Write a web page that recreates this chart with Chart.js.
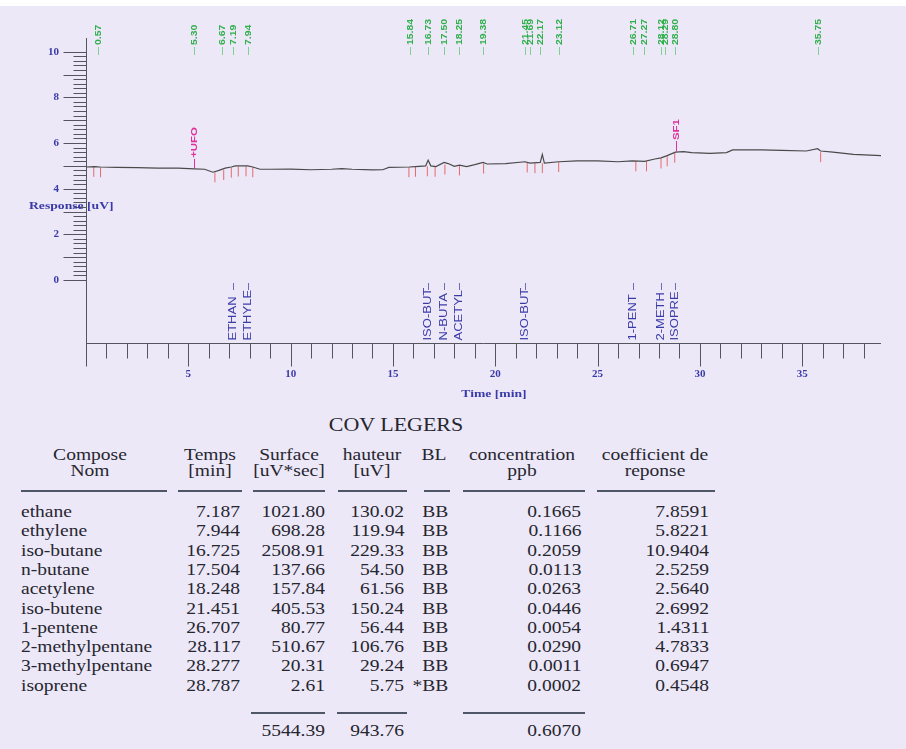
<!DOCTYPE html>
<html>
<head>
<meta charset="utf-8">
<script src="https://cdn.jsdelivr.net/npm/chart.js@4.4.1/dist/chart.umd.min.js"></script>
<style>
  html, body { margin: 0; padding: 0; }
  body {
    width: 906px; height: 749px; position: relative; overflow: hidden;
    background: #ece8f8; color: #26262e;
    font-family: "Liberation Serif", "Times New Roman", serif;
  }
  #topStrip { position: absolute; left: 0; top: 0; width: 906px; height: 6px; background: #fff; }
  #chartBox { position: absolute; left: 0; top: 0; width: 906px; height: 405px; }
  .cell { position: absolute; font-size: 16px; line-height: 18px; white-space: nowrap; }
  .rule { position: absolute; height: 2px; background: #4f5668; }
</style>
</head>
<body>
<div id="topStrip"></div>
<div id="chartBox"><canvas id="chart" width="906" height="405"></canvas></div>
<div id="table"></div>
<script>
// chromatogram trace (time in min, response in uV)
const traceTimes = [0, 0.4, 0.7, 1.5, 2.5, 3.5, 4.5, 5.3, 5.8, 6.2, 6.5, 6.8, 7.1, 7.3, 7.9, 8.15,
  8.5, 9, 10, 11, 12, 12.5, 13, 14, 14.5, 14.8, 15.8, 16.1, 16.6, 16.72, 16.85, 17.1, 17.5, 17.7,
  18.0, 18.25, 18.6, 19.0, 19.4, 19.6, 20.5, 21.45, 21.7, 22.2, 22.3, 22.4, 23.1, 24, 25, 26, 26.7,
  27.3, 27.8, 28.1, 28.4, 28.8, 29.2, 29.6, 30.5, 31.3, 31.6, 33, 34, 35.2, 35.75, 35.9, 36.5, 37.5, 38.9]
const traceResponse = [4.95, 4.97, 4.95, 4.93, 4.92, 4.9, 4.9, 4.87, 4.85, 4.72, 4.8, 4.9, 4.95, 5.0, 5.0, 4.95,
  4.85, 4.85, 4.86, 4.83, 4.85, 4.88, 4.85, 4.82, 4.83, 4.93, 4.95, 4.97, 5.0, 5.25, 5.0, 4.97, 5.15, 5.1,
  4.98, 5.03, 4.97, 5.05, 5.15, 5.08, 5.1, 5.18, 5.12, 5.15, 5.5, 5.12, 5.18, 5.22, 5.22, 5.18, 5.22,
  5.2, 5.3, 5.35, 5.45, 5.6, 5.62, 5.58, 5.55, 5.58, 5.7, 5.7, 5.68, 5.65, 5.75, 5.65, 5.6, 5.5, 5.45]

// red baseline marks under the peaks
const peakMarkTimes = [0.38, 0.71, 6.30, 6.73, 7.10, 7.44, 7.82, 8.15, 15.78, 16.10, 16.68, 17.06, 17.54,
  18.25, 19.43, 21.56, 21.94, 22.30, 23.10, 26.87, 27.39, 28.10, 28.40, 28.77, 35.90]
const peakMarkLevels = [4.74, 4.72, 4.5, 4.6, 4.7, 4.75, 4.76, 4.72, 4.72, 4.74, 4.76, 4.74, 4.84,
  4.8, 4.88, 4.93, 4.9, 4.9, 4.95, 4.98, 4.98, 5.1, 5.2, 5.36, 5.38]

// green retention time labels (top)
const retentionLabels = [0.57, 5.30, 6.67, 7.19, 7.94, 15.84, 16.73, 17.50, 18.25, 19.38, 21.45, 21.69,
  22.17, 23.12, 26.71, 27.27, 28.12, 28.29, 28.80, 35.75]

// magenta event labels: text bottom level and stem end level (uV)
const eventTimes = [5.30, 28.85]
const eventNames = ['+UFO', 'SF1']
const eventTextBottoms = [5.35, 6.13]
const eventBases = [4.9, 5.63]

// blue identified compound labels (bottom)
const peakNameTimes = [7.19, 7.94, 16.73, 17.50, 18.25, 21.45, 26.71, 28.12, 28.79]
const peakNames = ['ETHAN', 'ETHYLE', 'ISO-BUT', 'N-BUTA', 'ACETYL', 'ISO-BUT', '1-PENT', '2-METH', 'ISOPRE']

// axis labels
const xTickLabels = [5, 10, 15, 20, 25, 30, 35]
const yTickLabels = [0, 2, 4, 6, 8, 10]

// result table
const compoundNames = ['ethane', 'ethylene', 'iso-butane', 'n-butane', 'acetylene', 'iso-butene',
  '1-pentene', '2-methylpentane', '3-methylpentane', 'isoprene']
const retTimes = [7.187, 7.944, 16.725, 17.504, 18.248, 21.451, 26.707, 28.117, 28.277, 28.787]
const areas = [1021.80, 698.28, 2508.91, 137.66, 157.84, 405.53, 80.77, 510.67, 20.31, 2.61]
const heights = [130.02, 119.94, 229.33, 54.50, 61.56, 150.24, 56.44, 106.76, 29.24, 5.75]
const baselineCodes = ['BB', 'BB', 'BB', 'BB', 'BB', 'BB', 'BB', 'BB', 'BB', '*BB']
const concentrations = [0.1665, 0.1166, 0.2059, 0.0113, 0.0263, 0.0446, 0.0054, 0.0290, 0.0011, 0.0002]
const responseFactors = [7.8591, 5.8221, 10.9404, 2.5259, 2.5640, 2.6992, 1.4311, 4.7833, 0.6947, 0.4548]
const totalArea = 5544.39
const totalHeight = 943.76
const totalConcentration = 0.6070

const AXIS_BLUE = '#3b3ba8'
const GREEN = '#2fb04a'
const MAGENTA = '#e0309a'

// text stretched along its own direction, like the scanned printout
const stretchedText = (ctx, text, x, y, align, sx) => {
  ctx.save()
  ctx.translate(x, y)
  ctx.scale(sx, 1)
  ctx.textAlign = align
  ctx.fillText(text, 0, 0)
  ctx.restore()
}

const chromPlugin = {
  id: 'chromDecor',
  afterDraw(chart) {
    const { ctx, chartArea } = chart
    const x = chart.scales.x
    const y = chart.scales.y
    ctx.save()

    // axis lines + ticks
    ctx.strokeStyle = '#55555f'
    ctx.lineWidth = 1
    const left = Math.round(chartArea.left) + 0.5
    const bottom = Math.round(chartArea.bottom) + 0.5
    ctx.beginPath()
    ctx.moveTo(left, chartArea.top)
    ctx.lineTo(left, bottom + 23)
    ctx.moveTo(left, bottom)
    ctx.lineTo(chartArea.right, bottom)
    for (let m = 1; m <= Math.floor(x.max); m++) {
      const px = Math.round(x.getPixelForValue(m)) + 0.5
      ctx.moveTo(px, bottom)
      ctx.lineTo(px, bottom + (m % 5 === 0 ? 23 : 15))
    }
    for (let k = 0; k <= 50; k++) {
      const py = Math.round(y.getPixelForValue(k / 5)) + 0.5
      ctx.moveTo(left, py)
      ctx.lineTo(left - (k % 5 === 0 ? 23 : 13), py)
    }
    ctx.stroke()

    // axis titles
    ctx.fillStyle = AXIS_BLUE
    ctx.font = 'bold 10.5px "Liberation Serif"'
    ctx.textBaseline = 'middle'
    stretchedText(ctx, 'Response [uV]', 29, 206, 'left', 1.3)
    stretchedText(ctx, 'Time [min]', 494, 394, 'center', 1.3)

    // green retention times
    ctx.font = 'bold 9.5px "Liberation Sans"'
    ctx.fillStyle = GREEN
    ctx.strokeStyle = '#7fcf8f'
    retentionLabels.forEach((t) => {
      const px = Math.round(x.getPixelForValue(t)) + 0.5
      ctx.save()
      ctx.translate(px + 3, 45)
      ctx.rotate(-Math.PI / 2)
      ctx.textBaseline = 'middle'
      stretchedText(ctx, t.toFixed(2), 0, -3, 'left', 1.1)
      ctx.restore()
      ctx.beginPath()
      ctx.moveTo(px, 47)
      ctx.lineTo(px, 55)
      ctx.stroke()
    })

    // magenta events with their stems down to the trace
    ctx.fillStyle = MAGENTA
    ctx.strokeStyle = MAGENTA
    eventTimes.forEach((t, i) => {
      const px = Math.round(x.getPixelForValue(t)) + 0.5
      const pText = y.getPixelForValue(eventTextBottoms[i])
      const pBase = y.getPixelForValue(eventBases[i])
      ctx.save()
      ctx.translate(px + 3, pText)
      ctx.rotate(-Math.PI / 2)
      ctx.textBaseline = 'middle'
      stretchedText(ctx, eventNames[i], 0, -3, 'left', 1.2)
      ctx.restore()
      ctx.beginPath()
      ctx.moveTo(px, pText + 1)
      ctx.lineTo(px, pBase)
      ctx.stroke()
    })

    // blue compound names
    ctx.fillStyle = AXIS_BLUE
    ctx.strokeStyle = '#6b6bc0'
    ctx.font = '10px "Liberation Sans"'
    peakNameTimes.forEach((t, i) => {
      const px = Math.round(x.getPixelForValue(t)) + 0.5
      ctx.save()
      ctx.translate(px, bottom - 3)
      ctx.rotate(-Math.PI / 2)
      ctx.textBaseline = 'middle'
      stretchedText(ctx, peakNames[i], 0, 0, 'left', 1.3)
      ctx.restore()
      ctx.beginPath()
      ctx.moveTo(px, 283)
      ctx.lineTo(px, 290)
      ctx.stroke()
    })
    ctx.restore()
  },
}

new Chart(document.getElementById('chart'), {
  type: 'line',
  data: {
    datasets: [
      {
        label: 'trace',
        data: traceTimes.map((t, i) => ({ x: t, y: traceResponse[i] })),
        borderColor: '#4a4a4a',
        borderWidth: 1.2,
        pointRadius: 0,
        tension: 0,
      },
      {
        label: 'marks',
        type: 'scatter',
        data: peakMarkTimes.map((t, i) => ({ x: t, y: peakMarkLevels[i] })),
        pointStyle: 'line',
        rotation: 90,
        radius: 5,
        borderColor: '#e46a6a',
        borderWidth: 1,
      },
    ],
  },
  options: {
    responsive: false,
    animation: false,
    devicePixelRatio: 1,
    layout: { padding: { top: 38, right: 1, left: 0, bottom: 0 } },
    plugins: { legend: { display: false }, tooltip: { enabled: false } },
    scales: {
      x: {
        type: 'linear',
        min: 0,
        max: 38.85,
        border: { display: false },
        grid: { display: false, drawTicks: false },
        ticks: {
          stepSize: 5,
          autoSkip: false,
          maxRotation: 0,
          padding: 25,
          color: AXIS_BLUE,
          font: { family: 'Liberation Serif', size: 11, weight: 'bold' },
          callback: (v) => (xTickLabels.includes(v) ? String(v) : ''),
        },
        afterFit: (s) => { s.height = 62 },
      },
      y: {
        min: -2.76,
        max: 10.6,
        border: { display: false },
        grid: { display: false, drawTicks: false },
        ticks: {
          stepSize: 2,
          autoSkip: false,
          padding: 27,
          color: AXIS_BLUE,
          font: { family: 'Liberation Serif', size: 11, weight: 'bold' },
          callback: (v) => (yTickLabels.includes(v) ? String(v) : ''),
        },
        afterFit: (s) => { s.width = 86 },
      },
    },
  },
  plugins: [chromPlugin],
})

// ---- table ----
const table = document.getElementById('table')
const STRETCH = 1.22
const cell = (text, x, y, align, size) => {
  const d = document.createElement('div')
  d.className = 'cell'
  d.textContent = text
  if (size) d.style.fontSize = size + 'px'
  d.style.top = (y - 9) + 'px'
  if (align === 'right') {
    d.style.right = (906 - x) + 'px'
    d.style.transformOrigin = 'right center'
    d.style.transform = `scaleX(${STRETCH})`
  } else if (align === 'center') {
    d.style.left = x + 'px'
    d.style.transformOrigin = 'left center'
    d.style.transform = `scaleX(${STRETCH}) translateX(-50%)`
  } else {
    d.style.left = x + 'px'
    d.style.transformOrigin = 'left center'
    d.style.transform = `scaleX(${STRETCH})`
  }
  table.appendChild(d)
}
const rule = (x1, x2, y) => {
  const d = document.createElement('div')
  d.className = 'rule'
  d.style.left = x1 + 'px'
  d.style.width = (x2 - x1) + 'px'
  d.style.top = (y - 1) + 'px'
  table.appendChild(d)
}

cell('COV LEGERS', 396, 425, 'center', 18)
const headers = [
  ['Compose', 'Nom', 90],
  ['Temps', '[min]', 210],
  ['Surface', '[uV*sec]', 289],
  ['hauteur', '[uV]', 372],
  ['BL', '', 434],
  ['concentration', 'ppb', 522],
  ['coefficient de', 'reponse', 655],
]
headers.forEach(([a, b, cx]) => {
  cell(a, cx, 455, 'center')
  if (b) cell(b, cx, 471, 'center')
})
rule(21, 167, 491)
rule(178, 242, 491)
rule(253, 325, 491)
rule(338, 407, 491)
rule(424, 450, 491)
rule(463, 585, 491)
rule(597, 715, 491)

const ROW0 = 512
const ROWH = 19.3
compoundNames.forEach((name, i) => {
  const yy = ROW0 + i * ROWH
  cell(name, 21, yy, 'left')
  cell(retTimes[i].toFixed(3), 240, yy, 'right')
  cell(areas[i].toFixed(2), 325, yy, 'right')
  cell(heights[i].toFixed(2), 404, yy, 'right')
  cell(baselineCodes[i], 448, yy, 'right')
  cell(concentrations[i].toFixed(4), 581, yy, 'right')
  cell(responseFactors[i].toFixed(4), 709, yy, 'right')
})
rule(251, 325, 713)
rule(337, 407, 713)
rule(463, 585, 713)
cell(totalArea.toFixed(2), 325, 731, 'right')
cell(totalHeight.toFixed(2), 404, 731, 'right')
cell(totalConcentration.toFixed(4), 581, 731, 'right')
</script>
</body>
</html>
